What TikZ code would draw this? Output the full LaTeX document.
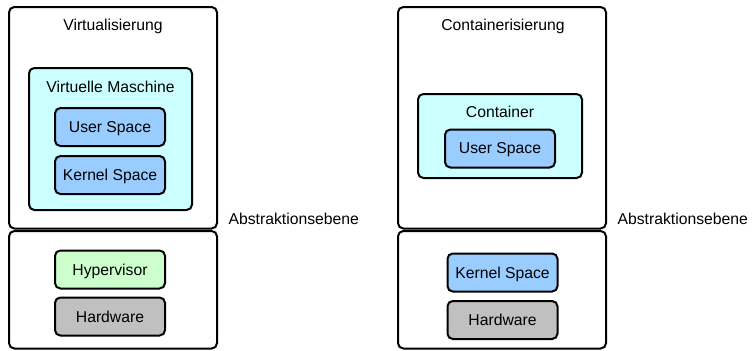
\documentclass[tikz,border=0pt]{standalone}
\usepackage{fontspec}
\setmainfont{Liberation Sans}
\usetikzlibrary{positioning}
\definecolor{colVM}{RGB}{204,255,255}
\definecolor{colSpace}{RGB}{153,204,255}
\definecolor{colHyp}{RGB}{204,255,204}
\definecolor{colHW}{RGB}{192,192,192}

\begin{document}
\begin{tikzpicture}[
    x=0.75pt, y=-0.75pt,
    font=\fontsize{11.8}{14}\selectfont,
    box/.style={draw, line width=1.5pt, rounded corners=4pt, inner sep=0pt},
    frame/.style={box, fill=white, minimum width=208*\px},
    layer/.style={box, fill=#1, minimum width=110*\px, minimum height=38*\px, text depth=0pt},
    caption/.style={inner sep=1pt, text depth=0pt},
  ]

  \def\px{0.75pt}   % one pixel of the reference

  \useasboundingbox (0,0) rectangle (752,350);

  % ---- Virtualisierung --------------------------------------------------
  \node[frame, minimum height=221.5*\px] (virtTop) at (113,117.75) {};
  \node[frame, minimum height=117.5*\px] (virtBot) at (113,289.75) {};
  \node[caption] (virtLabel) at (113,25) {Virtualisierung};

  \node[box, fill=colVM, minimum width=163*\px, minimum height=142*\px] (vm) at (110.5,139) {};
  \node[caption] (vmLabel) at (110.5,87) {Virtuelle Maschine};
  \node[layer=colSpace] (vmUser)   at (110,127)   {User Space};
  \node[layer=colSpace] (vmKernel) at (110,175)   {Kernel Space};

  \node[layer=colHyp] (hypervisor) at (110,269.5) {Hypervisor};
  \node[layer=colHW]  (virtHW)     at (110,316.5) {Hardware};

  \node[caption, anchor=west] (virtAbs) at (227,218.5) {Abstraktionsebene};

  % ---- Containerisierung ------------------------------------------------
  \node[frame, minimum height=221.5*\px] (contTop) at (502,117.75) {};
  \node[frame, minimum height=117.5*\px] (contBot) at (502,289.75) {};
  \node[caption] (contLabel) at (503,25) {Containerisierung};

  \node[box, fill=colVM, minimum width=164*\px, minimum height=84*\px] (container) at (500,136) {};
  \node[caption] (containerLabel) at (500,111.5) {Container};
  \node[layer=colSpace] (contUser) at (500,148.5) {User Space};

  \node[layer=colSpace] (contKernel) at (502.5,272.5) {Kernel Space};
  \node[layer=colHW]    (contHW)     at (502.5,320)   {Hardware};

  \node[caption, anchor=west] (contAbs) at (616,218.5) {Abstraktionsebene};

\end{tikzpicture}
\end{document}
